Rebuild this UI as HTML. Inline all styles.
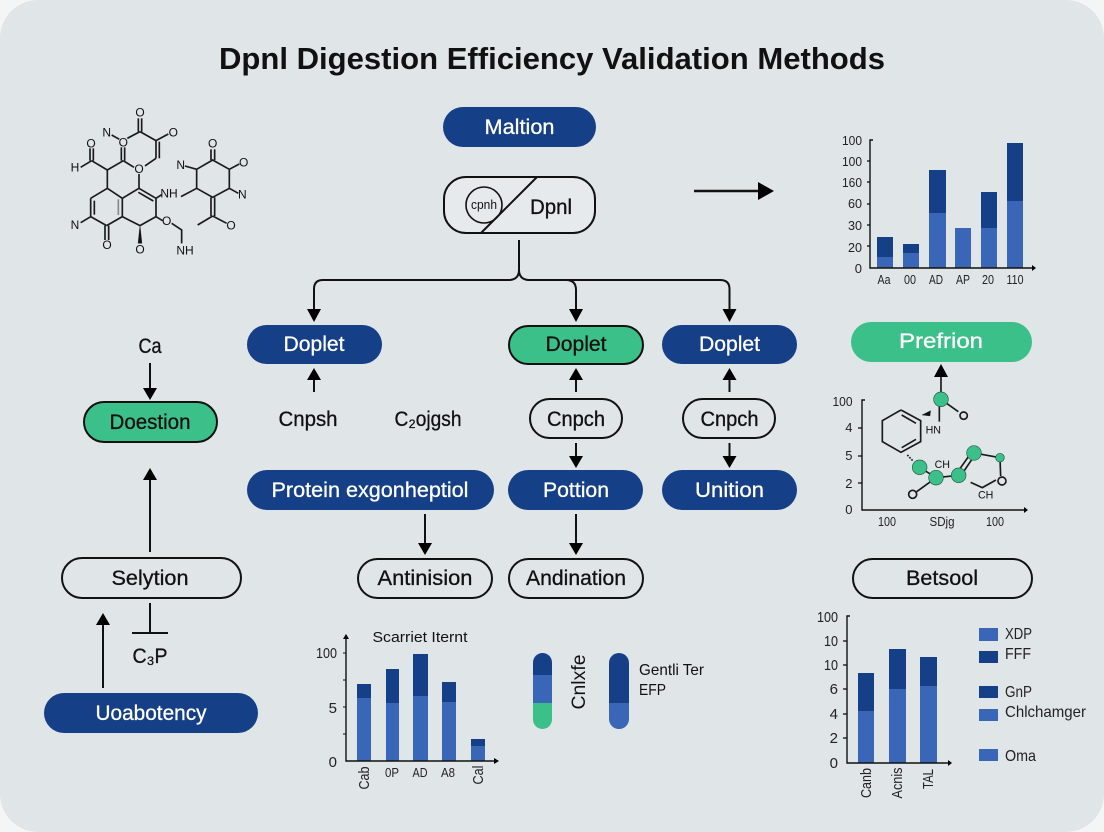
<!DOCTYPE html>
<html>
<head>
<meta charset="utf-8">
<style>
html,body{margin:0;padding:0;background:#f4f6f6}
svg{display:block}
text{font-family:"Liberation Sans",sans-serif;fill:#111}
.w{fill:#fff}
.c{text-anchor:middle}
.n{font-size:21px;text-anchor:middle;stroke:#111;stroke-width:.3}
.n.w{stroke:#fff}
.a{font-size:13px;text-anchor:end;fill:#222}
.b{font-size:13px;text-anchor:middle;fill:#222}
.a4{font-size:15px;text-anchor:end;fill:#222}
.b4{font-size:15px;text-anchor:middle;fill:#222}
.lg{font-size:16px;fill:#222}
.ar{stroke:#111;stroke-width:2;fill:none}
.ah{fill:#000}
.dk{fill:#153f86}
.md{fill:#3a66b8}
.gr{fill:#3cc08a}
.tk{stroke:#111;stroke-width:1.3}
.m line,.m polyline,.m polygon,.m circle{stroke:#1a1a1a;stroke-width:5;fill:none}
.m text{font-size:36px;text-anchor:middle;fill:#111}
.m .nd{fill:#3cc08a;stroke:#2a5a48;stroke-width:2}
</style>
</head>
<body>
<svg width="1104" height="832" viewBox="0 0 1104 832" xmlns="http://www.w3.org/2000/svg">
<rect width="1104" height="832" fill="#f4f6f6"/>
<rect width="1104" height="832" rx="38" fill="#e0e5e8"/>

<text x="552" y="69" class="c" font-size="31" font-weight="bold" textLength="666" lengthAdjust="spacingAndGlyphs">Dpnl Digestion Efficiency Validation Methods</text>

<!-- molecule -->
<g class="m" transform="translate(50,90) scale(.3333)">
<line x1="265" y1="85" x2="265" y2="125"/><line x1="275" y1="85" x2="275" y2="125"/>
<line x1="270" y1="125" x2="232" y2="145"/><line x1="185" y1="135" x2="208" y2="148"/>
<line x1="270" y1="125" x2="318" y2="152"/><line x1="318" y1="152" x2="355" y2="132"/>
<line x1="318" y1="152" x2="318" y2="205"/><line x1="328" y1="155" x2="328" y2="205"/>
<line x1="318" y1="205" x2="285" y2="228"/>
<line x1="214" y1="172" x2="214" y2="212"/><line x1="224" y1="172" x2="224" y2="212"/>
<line x1="220" y1="212" x2="252" y2="232"/><line x1="220" y1="212" x2="172" y2="240"/>
<line x1="172" y1="240" x2="125" y2="212"/>
<line x1="120" y1="212" x2="120" y2="175"/><line x1="130" y1="212" x2="130" y2="175"/>
<line x1="125" y1="212" x2="92" y2="232"/>
<line x1="172" y1="240" x2="172" y2="295"/><line x1="172" y1="295" x2="122" y2="325"/>
<line x1="122" y1="325" x2="122" y2="380"/><line x1="133" y1="332" x2="133" y2="374"/>
<line x1="122" y1="380" x2="92" y2="398"/><line x1="122" y1="380" x2="170" y2="407"/>
<line x1="165" y1="407" x2="165" y2="450"/><line x1="176" y1="407" x2="176" y2="450"/>
<line x1="170" y1="407" x2="217" y2="380"/><line x1="217" y1="380" x2="217" y2="325"/>
<line x1="205" y1="328" x2="205" y2="375" style="stroke:#888"/>
<line x1="217" y1="325" x2="172" y2="295"/><line x1="217" y1="325" x2="267" y2="295"/>
<line x1="267" y1="295" x2="267" y2="252"/>
<line x1="267" y1="295" x2="318" y2="325"/><line x1="265" y1="307" x2="310" y2="333"/>
<line x1="318" y1="325" x2="335" y2="314"/>
<line x1="318" y1="325" x2="318" y2="380"/><line x1="318" y1="380" x2="270" y2="407"/>
<line x1="270" y1="407" x2="217" y2="380"/>
<polygon points="270,405 264,460 276,460" style="fill:#111;stroke-width:1"/>
<line x1="318" y1="380" x2="338" y2="392"/>
<polyline points="365,400 395,420 395,460"/>
<polyline points="440,238 488,210 538,238 538,295 488,322 440,295 440,238"/>
<line x1="483" y1="210" x2="483" y2="178"/><line x1="494" y1="210" x2="494" y2="178"/>
<line x1="538" y1="238" x2="568" y2="222"/>
<line x1="405" y1="228" x2="440" y2="238"/>
<line x1="440" y1="295" x2="393" y2="320"/>
<line x1="538" y1="295" x2="565" y2="310"/>
<line x1="483" y1="322" x2="483" y2="378"/><line x1="494" y1="322" x2="494" y2="378"/>
<line x1="488" y1="378" x2="443" y2="405"/><line x1="488" y1="378" x2="530" y2="400"/>
<text x="270" y="80">O</text><text x="370" y="139">O</text><text x="220" y="169">O</text>
<text x="170" y="140">N</text><text x="123" y="172">O</text><text x="75" y="244">H</text>
<text x="267" y="249">O</text><text x="75" y="417">N</text><text x="171" y="477">O</text>
<text x="270" y="490">O</text><text x="357" y="322">NH</text><text x="350" y="405">O</text>
<text x="405" y="494">NH</text><text x="392" y="237">N</text><text x="488" y="172">O</text>
<text x="581" y="229">O</text><text x="577" y="325">N</text><text x="543" y="418">O</text>
</g>

<!-- top nodes -->
<rect x="443" y="107" width="153" height="40" rx="20" class="dk"/>
<text x="519.5" y="134" class="n w" textLength="70" lengthAdjust="spacingAndGlyphs">Maltion</text>
<rect x="444" y="177" width="151" height="56" rx="22" fill="#e6eaec" stroke="#111" stroke-width="2"/>
<circle cx="484" cy="205" r="18" fill="none" stroke="#111" stroke-width="1.6"/>
<line x1="537" y1="177" x2="481" y2="233" stroke="#111" stroke-width="2"/>
<text x="484" y="209" class="c" font-size="13" textLength="26" lengthAdjust="spacingAndGlyphs">cpnh</text>
<text x="551" y="214" class="n" textLength="42" lengthAdjust="spacingAndGlyphs">Dpnl</text>

<!-- connector tree -->
<path class="ar" d="M519 240V270Q519 279 510 280H323Q314 280 314 289V312"/>
<path class="ar" d="M519 270Q519 279 528 280H720Q729.5 280 729.5 289V312"/>
<path class="ar" d="M566 280Q576 280 576 290V312"/>
<path class="ah" d="M307 309H321L314 322Z"/>
<path class="ah" d="M569 309H583L576 322Z"/>
<path class="ah" d="M722.5 309H736.5L729.5 322Z"/>

<!-- top right arrow -->
<line x1="694" y1="191" x2="760" y2="191" stroke="#111" stroke-width="2.4"/>
<path class="ah" d="M758 182L774 191L758 200Z"/>

<!-- chart 1 -->
<g>
<rect x="877" y="237" width="16" height="20" class="dk"/><rect x="877" y="257" width="16" height="11" class="md"/>
<rect x="903" y="244" width="16" height="9" class="dk"/><rect x="903" y="253" width="16" height="15" class="md"/>
<rect x="929" y="170" width="17" height="43" class="dk"/><rect x="929" y="213" width="17" height="55" class="md"/>
<rect x="955" y="228" width="16" height="40" class="md"/>
<rect x="981" y="192" width="16" height="36" class="dk"/><rect x="981" y="228" width="16" height="40" class="md"/>
<rect x="1007" y="143" width="16" height="58" class="dk"/><rect x="1007" y="201" width="16" height="67" class="md"/>
<path d="M873 140H870V268H1033" fill="none" stroke="#111" stroke-width="1.4"/>
<path class="ah" d="M1032 265L1036 268L1032 271Z"/>
<line x1="867" y1="161" x2="870" y2="161" class="tk"/><line x1="867" y1="182" x2="870" y2="182" class="tk"/>
<line x1="867" y1="204" x2="870" y2="204" class="tk"/><line x1="867" y1="225" x2="870" y2="225" class="tk"/>
<line x1="867" y1="246" x2="870" y2="246" class="tk"/>
<text x="862" y="145" class="a" textLength="20" lengthAdjust="spacingAndGlyphs">100</text>
<text x="862" y="166" class="a" textLength="20" lengthAdjust="spacingAndGlyphs">100</text>
<text x="862" y="187" class="a" textLength="20" lengthAdjust="spacingAndGlyphs">160</text>
<text x="862" y="208" class="a" textLength="14" lengthAdjust="spacingAndGlyphs">60</text>
<text x="862" y="230" class="a" textLength="14" lengthAdjust="spacingAndGlyphs">30</text>
<text x="862" y="252" class="a" textLength="14" lengthAdjust="spacingAndGlyphs">20</text>
<text x="862" y="273" class="a">0</text>
<text x="884" y="284" class="b" textLength="13" lengthAdjust="spacingAndGlyphs">Aa</text>
<text x="910" y="284" class="b" textLength="12" lengthAdjust="spacingAndGlyphs">00</text>
<text x="936" y="284" class="b" textLength="14" lengthAdjust="spacingAndGlyphs">AD</text>
<text x="963" y="284" class="b" textLength="14" lengthAdjust="spacingAndGlyphs">AP</text>
<text x="988" y="284" class="b" textLength="12" lengthAdjust="spacingAndGlyphs">20</text>
<text x="1015" y="284" class="b" textLength="17" lengthAdjust="spacingAndGlyphs">110</text>
</g>

<!-- row 1 -->
<rect x="247" y="325" width="135" height="39" rx="19.5" class="dk"/>
<text x="314" y="351" class="n w" textLength="61" lengthAdjust="spacingAndGlyphs">Doplet</text>
<rect x="509" y="326" width="134" height="38" rx="19" class="gr" stroke="#111" stroke-width="2"/>
<text x="576" y="351" class="n" textLength="61" lengthAdjust="spacingAndGlyphs">Doplet</text>
<rect x="662" y="325" width="135" height="39" rx="19.5" class="dk"/>
<text x="729.5" y="351" class="n w" textLength="61" lengthAdjust="spacingAndGlyphs">Doplet</text>
<rect x="851" y="322" width="181" height="40" rx="20" class="gr"/>
<text x="941" y="348" class="n w" textLength="84" lengthAdjust="spacingAndGlyphs">Prefrion</text>

<!-- up arrows -->
<line x1="314" y1="392" x2="314" y2="376" class="ar"/><path class="ah" d="M307 380L314 368L321 380Z"/>
<line x1="576" y1="392" x2="576" y2="376" class="ar"/><path class="ah" d="M569 380L576 368L583 380Z"/>
<line x1="729.5" y1="392" x2="729.5" y2="376" class="ar"/><path class="ah" d="M722.5 380L729.5 368L736.5 380Z"/>

<!-- row 2 -->
<text x="308" y="426" class="n" textLength="59" lengthAdjust="spacingAndGlyphs">Cnpsh</text>
<text x="428" y="426" class="n" textLength="67" lengthAdjust="spacingAndGlyphs">C₂ojgsh</text>
<rect x="530" y="399" width="92" height="39" rx="19.5" fill="none" stroke="#111" stroke-width="2"/>
<text x="576" y="426" class="n" textLength="58" lengthAdjust="spacingAndGlyphs">Cnpch</text>
<rect x="683" y="399" width="92" height="39" rx="19.5" fill="none" stroke="#111" stroke-width="2"/>
<text x="729.5" y="426" class="n" textLength="58" lengthAdjust="spacingAndGlyphs">Cnpch</text>

<line x1="576" y1="443" x2="576" y2="458" class="ar"/><path class="ah" d="M569 456H583L576 468Z"/>
<line x1="729.5" y1="443" x2="729.5" y2="458" class="ar"/><path class="ah" d="M722.5 456H736.5L729.5 468Z"/>

<!-- row 3 -->
<rect x="247" y="470" width="247" height="40" rx="20" class="dk"/>
<text x="370" y="497" class="n w" textLength="197" lengthAdjust="spacingAndGlyphs">Protein exgonheptiol</text>
<rect x="508" y="470" width="135" height="40" rx="20" class="dk"/>
<text x="576" y="497" class="n w" textLength="66" lengthAdjust="spacingAndGlyphs">Pottion</text>
<rect x="662" y="470" width="135" height="40" rx="20" class="dk"/>
<text x="729.5" y="497" class="n w" textLength="69" lengthAdjust="spacingAndGlyphs">Unition</text>

<line x1="425" y1="514" x2="425" y2="545" class="ar"/><path class="ah" d="M418 543H432L425 555Z"/>
<line x1="576" y1="514" x2="576" y2="545" class="ar"/><path class="ah" d="M569 543H583L576 555Z"/>

<!-- row 4 -->
<rect x="358" y="559" width="134" height="39" rx="19.5" fill="none" stroke="#111" stroke-width="2"/>
<text x="425" y="585" class="n" textLength="95" lengthAdjust="spacingAndGlyphs">Antinision</text>
<rect x="509" y="559" width="134" height="39" rx="19.5" fill="none" stroke="#111" stroke-width="2"/>
<text x="576" y="585" class="n" textLength="100" lengthAdjust="spacingAndGlyphs">Andination</text>
<rect x="853" y="559" width="179" height="39" rx="19.5" fill="none" stroke="#111" stroke-width="2"/>
<text x="942" y="585" class="n" textLength="72" lengthAdjust="spacingAndGlyphs">Betsool</text>

<!-- left column -->
<text x="150" y="353" class="n" textLength="23" lengthAdjust="spacingAndGlyphs">Ca</text>
<line x1="150" y1="363" x2="150" y2="392" class="ar"/><path class="ah" d="M143 388H157L150 400Z"/>
<rect x="84" y="402" width="133" height="40" rx="20" class="gr" stroke="#111" stroke-width="2"/>
<text x="150" y="429" class="n" textLength="81" lengthAdjust="spacingAndGlyphs">Doestion</text>
<line x1="150" y1="552" x2="150" y2="478" class="ar"/><path class="ah" d="M143 480L150 468L157 480Z"/>
<rect x="62" y="558" width="179" height="40" rx="20" fill="none" stroke="#111" stroke-width="2"/>
<text x="150" y="585" class="n" textLength="77" lengthAdjust="spacingAndGlyphs">Selytion</text>
<line x1="150" y1="603" x2="150" y2="633" class="ar"/>
<line x1="132" y1="633" x2="168" y2="633" class="ar"/>
<text x="150" y="663" class="n" textLength="35" lengthAdjust="spacingAndGlyphs">C₃P</text>
<line x1="103" y1="688" x2="103" y2="622" class="ar"/><path class="ah" d="M96 625L103 613L110 625Z"/>
<rect x="44" y="693" width="214" height="40" rx="20" class="dk"/>
<text x="151" y="720" class="n w" textLength="111" lengthAdjust="spacingAndGlyphs">Uoabotency</text>

<!-- molecule chart -->
<g class="m" transform="translate(820,370) scale(.3333)">
<polyline points="243,120 302,152 302,215 243,247 187,215 187,152 243,120"/>
<line x1="245" y1="135" x2="288" y2="160"/><line x1="245" y1="233" x2="288" y2="208"/>
<polygon points="306,135 332,122 330,138" style="fill:#111;stroke-width:1"/>
<line x1="262" y1="255" x2="278" y2="272" style="stroke-dasharray:5 4"/>
<line x1="363" y1="0" x2="363" y2="88"/>
<line x1="358" y1="100" x2="358" y2="155"/>
<line x1="363" y1="88" x2="415" y2="125"/>
<circle cx="431" cy="137" r="11"/>
<line x1="299" y1="292" x2="348" y2="323"/><line x1="348" y1="323" x2="416" y2="316"/>
<line x1="410" y1="310" x2="456" y2="245"/><line x1="422" y1="318" x2="466" y2="253"/>
<line x1="462" y1="249" x2="540" y2="263"/><line x1="540" y1="263" x2="542" y2="318"/>
<polyline points="452,337 487,353 528,330"/>
<line x1="348" y1="323" x2="290" y2="365"/>
<circle cx="546" cy="333" r="12"/><circle cx="278" cy="373" r="12"/>
<circle cx="363" cy="88" r="22" class="nd"/>
<circle cx="299" cy="292" r="22" class="nd"/>
<circle cx="348" cy="323" r="22" class="nd"/>
<circle cx="416" cy="316" r="22" class="nd"/>
<circle cx="462" cy="249" r="22" class="nd"/>
<circle cx="540" cy="263" r="13" class="nd"/>
<text x="340" y="190" style="font-size:32px">HN</text>
<text x="367" y="294" style="font-size:32px">CH</text>
<text x="497" y="385" style="font-size:32px">CH</text>
</g>
<path class="ah" d="M934 377L941 364L948 377Z"/>
<path d="M865 400H862V510H1025" fill="none" stroke="#111" stroke-width="1.4"/>
<path class="ah" d="M1024 507L1028 510L1024 513Z"/>
<line x1="858" y1="428" x2="862" y2="428" class="tk"/><line x1="858" y1="456" x2="862" y2="456" class="tk"/>
<line x1="858" y1="483" x2="862" y2="483" class="tk"/>
<text x="852.5" y="406" class="a" textLength="20" lengthAdjust="spacingAndGlyphs">100</text>
<text x="852.5" y="432" class="a">4</text><text x="852.5" y="460" class="a">5</text>
<text x="852.5" y="488" class="a">2</text><text x="852.5" y="514" class="a">0</text>
<text x="887" y="526" class="b" textLength="18" lengthAdjust="spacingAndGlyphs">100</text>
<text x="942" y="526" class="b" textLength="25" lengthAdjust="spacingAndGlyphs">SDjg</text>
<text x="995" y="526" class="b" textLength="18" lengthAdjust="spacingAndGlyphs">100</text>

<!-- chart 3 -->
<rect x="357" y="684" width="14" height="14" class="dk"/><rect x="357" y="698" width="14" height="63" class="md"/>
<rect x="386" y="669" width="13" height="34" class="dk"/><rect x="386" y="703" width="13" height="58" class="md"/>
<rect x="413" y="654" width="15" height="42" class="dk"/><rect x="413" y="696" width="15" height="65" class="md"/>
<rect x="442" y="682" width="14" height="20" class="dk"/><rect x="442" y="702" width="14" height="59" class="md"/>
<rect x="471" y="739" width="14" height="7" class="dk"/><rect x="471" y="746" width="14" height="15" class="md"/>
<path d="M346 637V761H495" fill="none" stroke="#111" stroke-width="1.4"/>
<path class="ah" d="M343 639L346 634L349 639Z"/><path class="ah" d="M494 758L499 761L494 764Z"/>
<line x1="343" y1="680" x2="346" y2="680" stroke="#111"/><line x1="343" y1="734" x2="346" y2="734" stroke="#111"/>
<line x1="343" y1="653" x2="346" y2="653" stroke="#111"/><line x1="343" y1="707" x2="346" y2="707" stroke="#111"/>
<text x="337" y="658" class="a4" textLength="21" lengthAdjust="spacingAndGlyphs">100</text>
<text x="337" y="713" class="a4">5</text><text x="337" y="767" class="a4">0</text>
<text x="420" y="642" class="c" font-size="15" textLength="95" lengthAdjust="spacingAndGlyphs">Scarriet Iternt</text>
<text x="392" y="777" class="b" font-size="14" textLength="14" lengthAdjust="spacingAndGlyphs">0P</text>
<text x="420" y="777" class="b" textLength="15" lengthAdjust="spacingAndGlyphs">AD</text>
<text x="448" y="777" class="b" textLength="14" lengthAdjust="spacingAndGlyphs">A8</text>
<text transform="translate(369,778) rotate(-90)" class="b4" textLength="23" lengthAdjust="spacingAndGlyphs">Cab</text>
<text transform="translate(483,775) rotate(-90)" class="b4" textLength="19" lengthAdjust="spacingAndGlyphs">Cal</text>

<!-- capsules -->
<path d="M533 675V662.5a9.5 9.5 0 0 1 19 0V675Z" class="dk"/>
<rect x="533" y="675" width="19" height="28" class="md"/>
<path d="M533 703H552V719.5a9.5 9.5 0 0 1-19 0Z" class="gr"/>
<path d="M609 703V663a10 10 0 0 1 20 0V703Z" class="dk"/>
<path d="M609 703H629V719a10 10 0 0 1-20 0Z" class="md"/>
<text transform="translate(585,682) rotate(-90)" class="c" font-size="19" textLength="55" lengthAdjust="spacingAndGlyphs">Cnlxfe</text>
<text x="639" y="675" font-size="16" textLength="65" lengthAdjust="spacingAndGlyphs">Gentli Ter</text>
<text x="639" y="695" font-size="16" textLength="27" lengthAdjust="spacingAndGlyphs">EFP</text>

<!-- chart 4 -->
<rect x="858" y="673" width="16" height="38" class="dk"/><rect x="858" y="711" width="16" height="52" class="md"/>
<rect x="889" y="649" width="17" height="40" class="dk"/><rect x="889" y="689" width="17" height="74" class="md"/>
<rect x="920" y="657" width="17" height="29" class="dk"/><rect x="920" y="686" width="17" height="77" class="md"/>
<path d="M850 616H847V763H949" fill="none" stroke="#111" stroke-width="1.4"/>
<path class="ah" d="M948 760L952 763L948 766Z"/>
<line x1="843" y1="641" x2="847" y2="641" class="tk"/><line x1="843" y1="665" x2="847" y2="665" class="tk"/>
<line x1="843" y1="689" x2="847" y2="689" class="tk"/><line x1="843" y1="714" x2="847" y2="714" class="tk"/>
<line x1="843" y1="738" x2="847" y2="738" class="tk"/>
<text x="838" y="622" class="a4" textLength="21" lengthAdjust="spacingAndGlyphs">100</text>
<text x="838" y="646" class="a4" textLength="14" lengthAdjust="spacingAndGlyphs">10</text>
<text x="838" y="670" class="a4" textLength="14" lengthAdjust="spacingAndGlyphs">10</text>
<text x="838" y="694" class="a4">6</text><text x="838" y="719" class="a4">4</text>
<text x="838" y="743" class="a4">2</text><text x="838" y="768" class="a4">0</text>
<text transform="translate(871,783) rotate(-90)" class="b4" textLength="30" lengthAdjust="spacingAndGlyphs">Canb</text>
<text transform="translate(902,783) rotate(-90)" class="b4" textLength="31" lengthAdjust="spacingAndGlyphs">Acnis</text>
<text transform="translate(933,779) rotate(-90)" class="b4" textLength="20" lengthAdjust="spacingAndGlyphs">TAL</text>

<!-- legend -->
<rect x="979" y="628" width="19" height="13" class="md"/>
<rect x="979" y="651" width="19" height="12" class="dk"/>
<rect x="979" y="686" width="19" height="12" class="dk"/>
<rect x="979" y="709" width="19" height="12" class="md"/>
<rect x="979" y="749" width="19" height="12" class="md"/>
<text x="1005" y="639" class="lg" textLength="27" lengthAdjust="spacingAndGlyphs">XDP</text>
<text x="1005" y="659" class="lg" textLength="26" lengthAdjust="spacingAndGlyphs">FFF</text>
<text x="1005" y="697" class="lg" textLength="27" lengthAdjust="spacingAndGlyphs">GnP</text>
<text x="1005" y="717" class="lg" textLength="81" lengthAdjust="spacingAndGlyphs">Chlchamger</text>
<text x="1005" y="761" class="lg" textLength="31" lengthAdjust="spacingAndGlyphs">Oma</text>
</svg>
</body>
</html>
